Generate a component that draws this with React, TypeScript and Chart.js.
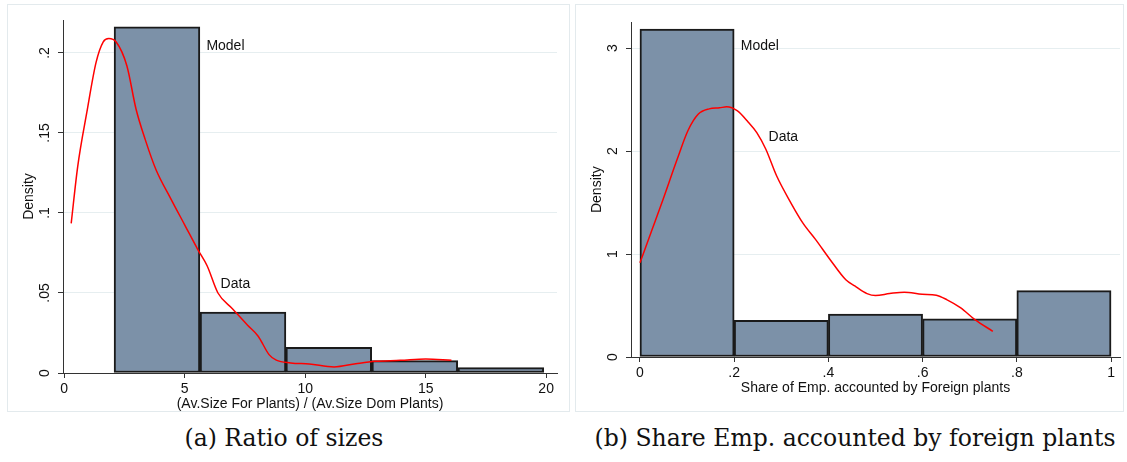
import React, { useEffect, useRef } from 'react';
import { Chart, registerables } from 'chart.js';

Chart.register(...registerables);

// ---------- Panel (a): Ratio of sizes ----------
const ratioBinCenters = [3.85, 7.42, 10.98, 14.55, 18.12];
const ratioModelDensity = [0.2163, 0.038, 0.0161, 0.0077, 0.0034];
const ratioDataX = [0.29, 0.56, 0.94, 1.32, 1.62, 1.85, 2.15, 2.6, 2.98, 3.36, 3.81, 4.42, 5.02, 5.55, 5.93, 6.38, 6.99, 7.6, 8.05, 8.5, 8.8, 9.4, 10.17, 11.2, 12.1, 12.9, 13.95, 15.0, 16.07];
const ratioDataY = [0.0935, 0.129, 0.163, 0.194, 0.207, 0.209, 0.207, 0.192, 0.165, 0.146, 0.127, 0.109, 0.092, 0.077, 0.067, 0.05, 0.04, 0.03, 0.023, 0.0115, 0.008, 0.0063, 0.0056, 0.0038, 0.0058, 0.0073, 0.0079, 0.0088, 0.008];
const ratioXTicks = [0, 5, 10, 15, 20];
const ratioXTickLabels = ['0', '5', '10', '15', '20'];
const ratioYTicks = [0, 0.05, 0.1, 0.15, 0.2];
const ratioYTickLabels = ['0', '.05', '.1', '.15', '.2'];
const ratioLabels = [
  { text: 'Model', x: 5.9, y: 0.204 },
  { text: 'Data', x: 6.49, y: 0.0556 },
];

// ---------- Panel (b): Share of employment ----------
const shareBinCenters = [0.1, 0.3, 0.5, 0.7, 0.9];
const shareModelDensity = [3.185, 0.357, 0.418, 0.37, 0.645];
const shareDataX = [0, 0.026, 0.049, 0.079, 0.102, 0.124, 0.147, 0.169, 0.184, 0.207, 0.23, 0.248, 0.267, 0.29, 0.32, 0.346, 0.373, 0.403, 0.437, 0.456, 0.482, 0.5, 0.53, 0.561, 0.599, 0.629, 0.651, 0.681, 0.711, 0.749];
const shareDataY = [0.915, 1.24, 1.53, 1.92, 2.2, 2.36, 2.41, 2.42, 2.43, 2.39, 2.28, 2.18, 2.02, 1.76, 1.5, 1.3, 1.14, 0.95, 0.75, 0.69, 0.616, 0.597, 0.616, 0.63, 0.61, 0.6, 0.558, 0.477, 0.363, 0.25];
const shareXTicks = [0, 0.2, 0.4, 0.6, 0.8, 1];
const shareXTickLabels = ['0', '.2', '.4', '.6', '.8', '1'];
const shareYTicks = [0, 1, 2, 3];
const shareYTickLabels = ['0', '1', '2', '3'];
const shareLabels = [
  { text: 'Model', x: 0.214, y: 3.02 },
  { text: 'Data', x: 0.273, y: 2.14 },
];

const FONT = '"Liberation Sans", Arial, Helvetica, sans-serif';
const BAR_FILL = '#7c91a8';
const BAR_EDGE = '#1a1a1a';
const GRID = '#e6eef0';
const AXIS = '#333333';

const textLabelsPlugin = {
  id: 'textLabels',
  afterDatasetsDraw(chart: any, _args: any, opts: any) {
    const { ctx } = chart;
    const xs = chart.scales.x;
    const ys = chart.scales.y;
    ctx.save();
    ctx.font = `14px ${FONT}`;
    ctx.fillStyle = '#111';
    ctx.textAlign = 'left';
    ctx.textBaseline = 'middle';
    for (const l of opts.labels || []) {
      ctx.fillText(l.text, xs.getPixelForValue(l.x), ys.getPixelForValue(l.y));
    }
    ctx.restore();
  },
};

type PanelCfg = {
  width: number;
  height: number;
  binCenters: number[];
  model: number[];
  dataX: number[];
  dataY: number[];
  xMin: number;
  xMax: number;
  yMax: number;
  xTicks: number[];
  xTickLabels: string[];
  yTicks: number[];
  yTickLabels: string[];
  labels: { text: string; x: number; y: number }[];
  xTitle: string;
  padRight: number;
  padTop: number;
  xAxisHeight: number;
  xTitlePadBottom: number;
  xTickPad: number;
  yTickPad: number;
};

function HistPanel({ cfg }: { cfg: PanelCfg }) {
  const ref = useRef<HTMLCanvasElement | null>(null);
  useEffect(() => {
    if (!ref.current) return;
    const chart = new Chart(ref.current, {
      type: 'bar',
      data: {
        datasets: [
          {
            type: 'line',
            label: 'Data',
            data: cfg.dataX.map((x, i) => ({ x, y: cfg.dataY[i] })),
            borderColor: '#ff0000',
            borderWidth: 1.5,
            pointRadius: 0,
            tension: 0.4,
            cubicInterpolationMode: 'monotone',
            fill: false,
            order: 0,
          } as any,
          {
            type: 'bar',
            label: 'Model',
            data: cfg.binCenters.map((x, i) => ({ x, y: cfg.model[i] })),
            backgroundColor: BAR_FILL,
            borderColor: BAR_EDGE,
            borderWidth: 2,
            borderSkipped: false,
            barPercentage: 1,
            categoryPercentage: 1,
            order: 1,
          } as any,
        ],
      },
      options: {
        responsive: false,
        animation: false,
        layout: { padding: { left: 0, right: cfg.padRight, top: cfg.padTop, bottom: 0 } },
        plugins: {
          legend: { display: false },
          tooltip: { enabled: false },
          textLabels: { labels: cfg.labels },
        } as any,
        scales: {
          x: {
            type: 'linear',
            min: cfg.xMin,
            max: cfg.xMax,
            offset: false,
            grid: { display: true, drawOnChartArea: false, offset: false, tickLength: 5, tickColor: AXIS },
            border: { display: true, color: AXIS, width: 1 },
            afterBuildTicks: (s: any) => {
              s.ticks = cfg.xTicks.map((v) => ({ value: v }));
            },
            afterFit: (s: any) => {
              s.height = cfg.xAxisHeight;
            },
            ticks: {
              autoSkip: false,
              maxRotation: 0,
              minRotation: 0,
              padding: cfg.xTickPad,
              color: '#111',
              font: { family: FONT, size: 14 },
              callback: (_v: any, i: number) => cfg.xTickLabels[i],
            },
            title: {
              display: true,
              text: cfg.xTitle,
              color: '#111',
              font: { family: FONT, size: 14 },
              padding: { top: 0, bottom: cfg.xTitlePadBottom },
            },
          },
          y: {
            type: 'linear',
            min: 0,
            max: cfg.yMax,
            grid: { color: GRID, lineWidth: 1, tickLength: 5, tickColor: AXIS },
            border: { display: true, color: AXIS, width: 1 },
            afterBuildTicks: (s: any) => {
              s.ticks = cfg.yTicks.map((v) => ({ value: v }));
            },
            afterFit: (s: any) => {
              s.width = 55;
            },
            ticks: {
              autoSkip: false,
              minRotation: 90,
              maxRotation: 90,
              crossAlign: 'center',
              padding: cfg.yTickPad,
              color: '#111',
              font: { family: FONT, size: 14 },
              callback: (_v: any, i: number) => cfg.yTickLabels[i],
            },
            title: {
              display: true,
              text: 'Density',
              color: '#111',
              font: { family: FONT, size: 14 },
              padding: { top: 13, bottom: 0 },
            },
          },
        },
      } as any,
      plugins: [textLabelsPlugin as any],
    });
    return () => chart.destroy();
  }, [cfg]);
  return <canvas ref={ref} width={cfg.width} height={cfg.height} style={{ display: 'block' }} />;
}

const panelA: PanelCfg = {
  width: 561,
  height: 406,
  binCenters: ratioBinCenters,
  model: ratioModelDensity,
  dataX: ratioDataX,
  dataY: ratioDataY,
  xMin: -0.05,
  xMax: 20.45,
  yMax: 0.2206,
  xTicks: ratioXTicks,
  xTickLabels: ratioXTickLabels,
  yTicks: ratioYTicks,
  yTickLabels: ratioYTickLabels,
  labels: ratioLabels,
  xTitle: '(Av.Size For Plants) / (Av.Size Dom Plants)',
  padRight: 12,
  padTop: 15,
  xAxisHeight: 38,
  xTitlePadBottom: -1.5,
  xTickPad: 3,
  yTickPad: 3,
};

const panelB: PanelCfg = {
  width: 547,
  height: 406,
  binCenters: shareBinCenters,
  model: shareModelDensity,
  dataX: shareDataX,
  dataY: shareDataY,
  xMin: -0.019,
  xMax: 1.019,
  yMax: 3.25,
  xTicks: shareXTicks,
  xTickLabels: shareXTickLabels,
  yTicks: shareYTicks,
  yTickLabels: shareYTickLabels,
  labels: shareLabels,
  xTitle: 'Share of Emp. accounted by Foreign plants',
  padRight: 3,
  padTop: 17,
  xAxisHeight: 54,
  xTitlePadBottom: 14,
  xTickPad: 3,
  yTickPad: 9,
};

const frameStyle = (left: number, width: number): React.CSSProperties => ({
  position: 'absolute',
  left,
  top: 4,
  width,
  height: 406,
  border: '1px solid #e3eaed',
  background: '#fff',
});

const captionStyle = (center: number): React.CSSProperties => ({
  position: 'absolute',
  left: center - 300,
  width: 600,
  top: 423,
  textAlign: 'center',
  fontFamily: '"DejaVu Serif", "Liberation Serif", serif',
  fontSize: 23.5,
  lineHeight: '30px',
  color: '#111',
  whiteSpace: 'nowrap',
});

export default function App() {
  return (
    <div style={{ position: 'fixed', left: 0, top: 0, width: 1127, height: 462, background: '#fff', overflow: 'hidden' }}>
      <div style={frameStyle(7, 561)}>
        <HistPanel cfg={panelA} />
      </div>
      <div style={frameStyle(575, 547)}>
        <HistPanel cfg={panelB} />
      </div>
      <div style={captionStyle(284)}>(a) Ratio of sizes</div>
      <div style={captionStyle(855)}>(b) Share Emp. accounted by foreign plants</div>
    </div>
  );
}
